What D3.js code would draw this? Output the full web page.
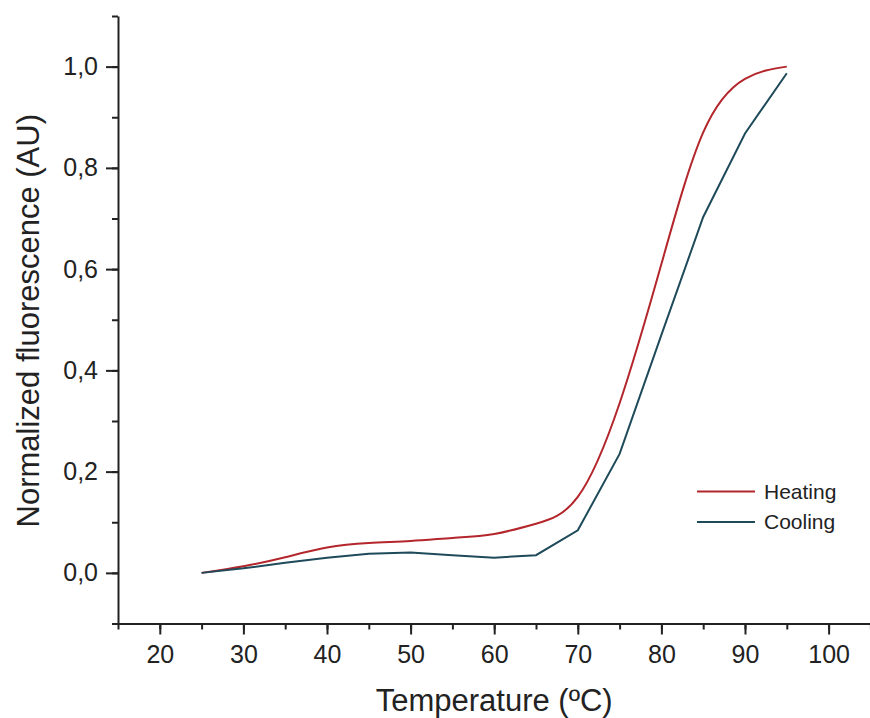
<!DOCTYPE html>
<html>
<head>
<meta charset="utf-8">
<style>
  body { margin: 0; background: #fff; }
  svg text { font-family: Arial, "Liberation Sans", sans-serif; fill: #222; }
</style>
</head>
<body>
<script src="https://cdnjs.cloudflare.com/ajax/libs/d3/7.8.5/d3.min.js"></script>
<svg id="chart" width="870" height="718"></svg>
<script>

  // temperatures (ºC) where both runs were read
  const temps = [25, 30, 35, 40, 45, 50, 55, 60, 65, 70, 75, 80, 85, 90, 95];
  const heating = [0, 0.013, 0.031, 0.05, 0.059, 0.063, 0.069, 0.077, 0.097, 0.15, 0.335, 0.61, 0.87, 0.976, 1.0];
  const cooling = [0, 0.009, 0.02, 0.03, 0.038, 0.04, 0.035, 0.03, 0.035, 0.084, 0.235, 0.47, 0.703, 0.868, 0.987];

  const xTicks = [20, 30, 40, 50, 60, 70, 80, 90, 100];
  const yTicks = [0, 0.2, 0.4, 0.6, 0.8, 1.0];

  const series = [
    { name: 'Heating', values: heating, color: '#b3262b', curve: d3.curveNatural },
    { name: 'Cooling', values: cooling, color: '#1e4a5a', curve: d3.curveLinear }
  ];

  const svg = d3.select('#chart');

  const x = d3.scaleLinear().domain([15, 105]).range([118, 870.4]);
  const y = d3.scaleLinear().domain([-0.1, 1.1]).range([623.5, 16]);

  const fmt = d => d3.format('.1f')(d).replace('.', ',');

  // minor ticks first, then major with labels
  svg.append('g')
    .attr('transform', `translate(0,${y(-0.1)})`)
    .call(d3.axisBottom(x).tickValues(d3.range(15, 106, 5)).tickSize(6).tickFormat(''))
    .call(g => g.select('.domain').remove());

  svg.append('g')
    .attr('transform', `translate(0,${y(-0.1)})`)
    .call(d3.axisBottom(x).tickValues(xTicks).tickSize(11).tickPadding(11).tickSizeOuter(0).tickFormat(d3.format('d')));

  svg.append('g')
    .attr('transform', `translate(${x(15)},0)`)
    .call(d3.axisLeft(y).tickValues(d3.range(-0.1, 1.11, 0.1)).tickSize(6).tickFormat(''))
    .call(g => g.select('.domain').remove());

  svg.append('g')
    .attr('transform', `translate(${x(15)},0)`)
    .call(d3.axisLeft(y).tickValues(yTicks).tickSize(12).tickPadding(8).tickSizeOuter(0).tickFormat(fmt));

  svg.selectAll('.tick line, .domain')
    .attr('stroke', '#222')
    .attr('stroke-width', 2);

  svg.selectAll('.tick text')
    .attr('font-size', 25)
    .attr('fill', '#222')
    .style('font-family', 'Arial, "Liberation Sans", sans-serif');

  // axis titles
  svg.append('text')
    .attr('x', (x(15) + x(105)) / 2)
    .attr('y', 711)
    .attr('text-anchor', 'middle')
    .attr('font-size', 31)
    .text('Temperature (ºC)');

  svg.append('text')
    .attr('transform', `translate(39,${(y(-0.1) + y(1.1)) / 2 + 1}) rotate(-90)`)
    .attr('text-anchor', 'middle')
    .attr('font-size', 31)
    .text('Normalized fluorescence (AU)');

  // lines
  series.forEach(s => {
    const line = d3.line()
      .curve(s.curve)
      .x((d, i) => x(temps[i]))
      .y(d => y(d));
    svg.append('path')
      .datum(s.values)
      .attr('d', line)
      .attr('fill', 'none')
      .attr('stroke', s.color)
      .attr('stroke-width', 2);
  });

  // legend
  const legend = svg.append('g')
    .selectAll('g')
    .data(series)
    .enter()
    .append('g')
    .attr('transform', (d, i) => `translate(697,${491.5 + i * 30.5})`);

  legend.append('line')
    .attr('x1', 0).attr('x2', 58)
    .attr('stroke', d => d.color)
    .attr('stroke-width', 2);

  legend.append('text')
    .attr('x', 67)
    .attr('dy', '0.35em')
    .attr('font-size', 21)
    .text(d => d.name);

</script>
</body>
</html>
